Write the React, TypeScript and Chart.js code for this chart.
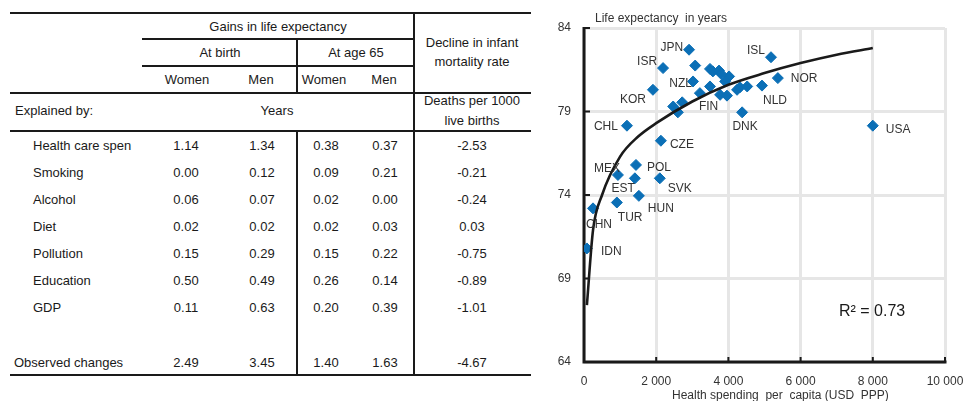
import React, { useEffect, useRef } from 'react';
import { Chart, registerables } from 'chart.js';

Chart.register(...registerables);

const FONT = '"Liberation Sans", Arial, Helvetica, sans-serif';
const INK = '#1a1a1a';

// ---- Table: sources of gains in life expectancy ----
const factorLabels = ['Health care spen', 'Smoking', 'Alcohol', 'Diet', 'Pollution', 'Education', 'GDP'];
const birthWomen = [1.14, 0.0, 0.06, 0.02, 0.15, 0.5, 0.11];
const birthMen = [1.34, 0.12, 0.07, 0.02, 0.29, 0.49, 0.63];
const age65Women = [0.38, 0.09, 0.02, 0.02, 0.15, 0.26, 0.2];
const age65Men = [0.37, 0.21, 0.0, 0.03, 0.22, 0.14, 0.39];
const infantMortalityDecline = [-2.53, -0.21, -0.24, 0.03, -0.75, -0.89, -1.01];
const observedChanges = [2.49, 3.45, 1.4, 1.63, -4.67];

// ---- Scatter: health spending vs life expectancy ----
const countryCodes = [
  'JPN', 'ISR', 'KOR', 'CHL', 'NZL', 'FIN', 'DNK', 'ISL', 'NOR', 'NLD',
  'USA', 'CZE', 'POL', 'MEX', 'EST', 'SVK', 'HUN', 'TUR', 'CHN', 'IDN',
  '', '', '', '', '', '', '', '', '', '', '', '', '', '', '', '',
];
const healthSpending = [
  2910, 2190, 1910, 1190, 3020, 3210, 4380, 5180, 5370, 4930,
  8000, 2130, 1440, 940, 1410, 2100, 1520, 910, 250, 80,
  3080, 3490, 3570, 3740, 3800, 4020, 3910, 3490, 3770, 3960, 4240, 4320, 4520, 2470, 2720, 2600,
];
const lifeExpectancy = [
  82.7, 81.6, 80.3, 78.15, 80.8, 80.1, 78.95, 82.25, 81.0, 80.55,
  78.15, 77.25, 75.8, 75.2, 75.0, 75.0, 73.95, 73.55, 73.2, 70.8,
  81.75, 81.55, 81.4, 81.45, 81.25, 81.1, 80.8, 80.5, 80.0, 79.95, 80.3, 80.45, 80.5, 79.3, 79.55, 78.95,
];
const trendSpending = [80, 250, 500, 1000, 1500, 2000, 3000, 4000, 5000, 6000, 7000, 8000];
const trendLifeExpectancy = [67.4, 71.9, 74.0, 76.3, 77.5, 78.3, 79.6, 80.6, 81.3, 81.9, 82.4, 82.8];
const rSquared = 0.73;

// label placement next to each marker: [dx, dy, alignment]
const labelPlacement: Record<string, [number, number, CanvasTextAlign]> = {
  JPN: [-6, -2, 'right'],
  ISR: [-6, -6, 'right'],
  KOR: [-7, 10, 'right'],
  CHL: [-9, 1, 'right'],
  NZL: [-1, 2, 'right'],
  FIN: [-1, 14, 'left'],
  DNK: [3, 14, 'center'],
  ISL: [-6, -7, 'right'],
  NOR: [13, 1, 'left'],
  NLD: [1, 15, 'left'],
  USA: [13, 4, 'left'],
  CZE: [9, 4, 'left'],
  POL: [11, 3, 'left'],
  MEX: [2, -6, 'right'],
  EST: [0, 10, 'right'],
  SVK: [8, 10, 'left'],
  HUN: [9, 13, 'left'],
  TUR: [1, 15, 'left'],
  CHN: [-7, 16, 'left'],
  IDN: [14, 3, 'left'],
};

const thousands = (v: number) => String(v).replace(/\B(?=(\d{3})+(?!\d))/g, ' ');

const chartDecor = {
  id: 'chartDecor',
  beforeDatasetsDraw(chart: any) {
    const { ctx, chartArea: a, scales } = chart;
    const x = scales.x;
    const y = scales.y;
    ctx.save();
    ctx.strokeStyle = INK;
    ctx.lineWidth = 3;
    ctx.beginPath();
    ctx.moveTo(a.left, a.top - 1);
    ctx.lineTo(a.left, a.bottom);
    ctx.lineTo(a.right + 1.5, a.bottom);
    ctx.stroke();
    ctx.lineWidth = 2;
    ctx.beginPath();
    x.ticks.forEach((t: any) => {
      if (t.value === x.min) return;
      const px = x.getPixelForValue(t.value);
      ctx.moveTo(px, a.bottom);
      ctx.lineTo(px, a.bottom - 5);
    });
    y.ticks.forEach((t: any) => {
      if (t.value === y.min) return;
      const py = y.getPixelForValue(t.value);
      ctx.moveTo(a.left, py);
      ctx.lineTo(a.left + 6, py);
    });
    ctx.stroke();
    ctx.restore();
  },
  afterDatasetsDraw(chart: any) {
    const { ctx, chartArea: a } = chart;
    const meta = chart.getDatasetMeta(1);
    ctx.save();
    ctx.fillStyle = '#333';
    ctx.font = `12px ${FONT}`;
    ctx.textBaseline = 'middle';
    countryCodes.forEach((code, i) => {
      const place = labelPlacement[code];
      if (!code || !place) return;
      const pt = meta.data[i];
      ctx.textAlign = place[2];
      ctx.fillText(code, pt.x + place[0], pt.y + place[1]);
    });
    // axis titles
    ctx.textAlign = 'left';
    ctx.fillText('Life expectancy  in years', a.left + 11, 19);
    ctx.fillText('Health spending  per  capita (USD  PPP)', a.left + 88, 396);
    // goodness of fit
    ctx.font = `16px ${FONT}`;
    ctx.fillStyle = INK;
    ctx.fillText(`R\u00B2 = ${rSquared.toFixed(2)}`, a.left + 255, 312);
    ctx.restore();
  },
};

function Txt({ x, y, children, align = 'center', size = 13 }: any) {
  return (
    <div
      style={{
        position: 'absolute',
        left: x,
        top: y,
        transform: align === 'center' ? 'translate(-50%, -50%)' : 'translate(0, -50%)',
        whiteSpace: 'nowrap',
        fontSize: size,
        lineHeight: `${size + 3}px`,
      }}
    >
      {children}
    </div>
  );
}

function HLine({ x1, x2, y, w = 2 }: any) {
  return <div style={{ position: 'absolute', left: x1, top: y - w / 2, width: x2 - x1, height: w, background: INK }} />;
}

function VLine({ x, y1, y2, w = 2 }: any) {
  return <div style={{ position: 'absolute', left: x - w / 2, top: y1, width: w, height: y2 - y1, background: INK }} />;
}

const colCenters = [186, 262, 326, 385, 472];

function ResultsTable() {
  const rowY = (i: number) => 146 + i * 27;
  const valueColumns = [birthWomen, birthMen, age65Women, age65Men, infantMortalityDecline];
  return (
    <div style={{ position: 'absolute', left: 0, top: 0, width: 540, height: 401 }}>
      <HLine x1={10} x2={531} y={13} />
      <HLine x1={142} x2={414} y={39} />
      <HLine x1={142} x2={414} y={66} />
      <HLine x1={10} x2={531} y={93} />
      <HLine x1={10} x2={531} y={131} />
      <HLine x1={10} x2={531} y={375} />
      <VLine x={297} y1={39} y2={93} />
      <VLine x={297} y1={131} y2={375} />
      <VLine x={414} y1={12} y2={375} />

      <Txt x={278} y={27}>Gains in life expectancy</Txt>
      <Txt x={220} y={53}>At birth</Txt>
      <Txt x={356} y={53}>At age 65</Txt>
      <Txt x={187} y={80}>Women</Txt>
      <Txt x={261} y={80}>Men</Txt>
      <Txt x={324} y={80}>Women</Txt>
      <Txt x={384} y={80}>Men</Txt>
      <Txt x={472} y={43}>Decline in infant</Txt>
      <Txt x={472} y={62}>mortality rate</Txt>

      <Txt x={15} y={111} align="left">Explained by:</Txt>
      <Txt x={277} y={111}>Years</Txt>
      <Txt x={472} y={101}>Deaths per 1000</Txt>
      <Txt x={472} y={121}>live births</Txt>

      {factorLabels.map((label, i) => (
        <React.Fragment key={label}>
          <Txt x={33} y={rowY(i)} align="left">{label}</Txt>
          {valueColumns.map((col, c) => (
            <Txt key={c} x={colCenters[c]} y={rowY(i)}>{col[i].toFixed(2)}</Txt>
          ))}
        </React.Fragment>
      ))}
      <Txt x={14} y={363} align="left">Observed changes</Txt>
      {observedChanges.map((v, c) => (
        <Txt key={c} x={colCenters[c]} y={363}>{v.toFixed(2)}</Txt>
      ))}
    </div>
  );
}

export default function App() {
  const canvasRef = useRef<HTMLCanvasElement>(null);

  useEffect(() => {
    const canvas = canvasRef.current;
    if (!canvas) return;
    const tickFont = { family: FONT, size: 12 };
    const chart = new Chart(canvas, {
      type: 'scatter',
      data: {
        datasets: [
          {
            label: 'Trend',
            data: trendSpending.map((x, i) => ({ x, y: trendLifeExpectancy[i] })),
            showLine: true,
            borderColor: INK,
            borderWidth: 2.6,
            pointRadius: 0,
            cubicInterpolationMode: 'monotone',
            fill: false,
          },
          {
            label: 'Countries',
            data: healthSpending.map((x, i) => ({ x, y: lifeExpectancy[i] })),
            pointStyle: 'rectRot',
            pointRadius: 5.5,
            backgroundColor: '#0b6fb6',
            borderColor: '#0b6fb6',
            borderWidth: 1,
          },
        ],
      } as any,
      options: {
        animation: false,
        responsive: false,
        layout: { padding: { top: 28, right: 19, left: 0, bottom: 0 } },
        plugins: { legend: { display: false }, tooltip: { enabled: false } },
        scales: {
          x: {
            type: 'linear',
            min: 0,
            max: 10000,
            ticks: { stepSize: 2000, padding: 12, color: '#333', font: tickFont, callback: (v: any) => thousands(Number(v)) },
            grid: { color: '#e6e6e6', lineWidth: 3, drawTicks: false },
            border: { display: false },
            afterFit: (s: any) => {
              s.height = 39;
              s.paddingLeft = 0;
              s.paddingRight = 0;
            },
          },
          y: {
            min: 64,
            max: 84,
            ticks: { stepSize: 5, padding: 13, color: '#333', font: tickFont },
            grid: { color: '#e6e6e6', lineWidth: 3, drawTicks: false },
            border: { display: false },
            afterFit: (s: any) => {
              s.width = 44;
              s.paddingTop = 0;
              s.paddingBottom = 0;
            },
          },
        },
      } as any,
      plugins: [chartDecor],
    });
    return () => chart.destroy();
  }, []);

  return (
    <div
      style={{
        position: 'fixed',
        left: 0,
        top: 0,
        width: 964,
        height: 401,
        background: '#fff',
        overflow: 'hidden',
        fontFamily: FONT,
        color: INK,
      }}
    >
      <ResultsTable />
      <div style={{ position: 'absolute', left: 540, top: 0, width: 424, height: 401 }}>
        <canvas ref={canvasRef} width={424} height={401} style={{ display: 'block' }} />
      </div>
    </div>
  );
}
